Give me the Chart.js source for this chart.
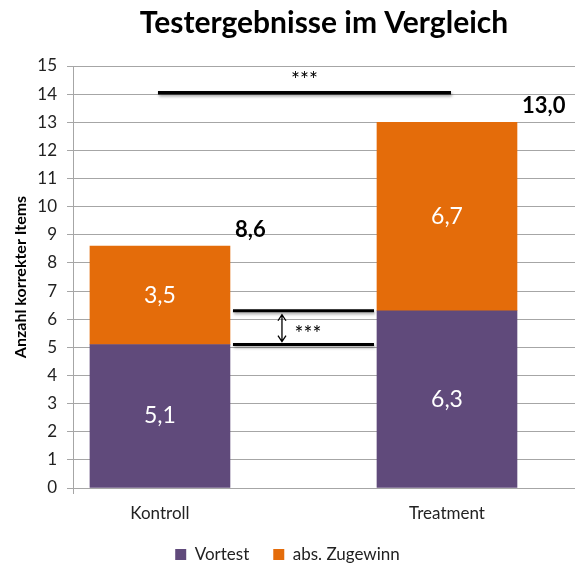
<!DOCTYPE html>
<html>
<head>
<meta charset="utf-8">
<script src="https://cdn.jsdelivr.net/npm/chart.js@4"></script>
<style>
  html, body { margin: 0; padding: 0; background: #fff; }
  #wrap { width: 575px; height: 565px; }
</style>
</head>
<body>
<div id="wrap"><canvas id="c" width="575" height="565"></canvas></div>
<script>
// ---- data ----
const categories = ['Kontroll', 'Treatment'];
const seriesNames = ['Vortest', 'abs. Zugewinn'];
const vortest = [5.1, 6.3];
const zugewinn = [3.5, 6.7];
const totals = [8.6, 13.0];
const yMin = 0, yMax = 15, yStep = 1;
const sigLevelTop = 14.05;       // y-value of the upper significance bar
const sigMark = '***';
const titleText = 'Testergebnisse im Vergleich';
const yTitle = 'Anzahl korrekter Items';

const colors = ['#604A7B', '#E46C0A'];
const FONT = 'Lato, "Open Sans", sans-serif';
const fmt = v => v.toFixed(1).replace('.', ',');

const annotate = {
  id: 'annotate',
  afterDatasetsDraw(chart) {
    const ctx = chart.ctx;
    const xs = chart.scales.x, ys = chart.scales.y;
    const m0 = chart.getDatasetMeta(0), m1 = chart.getDatasetMeta(1);
    ctx.save();
    // value labels inside segments
    ctx.fillStyle = '#fff';
    ctx.font = '23px ' + FONT;
    ctx.textAlign = 'center';
    ctx.textBaseline = 'middle';
    [m0, m1].forEach((m, di) => {
      const vals = di === 0 ? vortest : zugewinn;
      m.data.forEach((bar, i) => {
        ctx.fillText(fmt(vals[i]), bar.x, (bar.y + bar.base) / 2);
      });
    });
    // totals
    ctx.fillStyle = '#000';
    ctx.font = 'bold 22px ' + FONT;
    ctx.textAlign = 'left';
    ctx.textBaseline = 'alphabetic';
    m1.data.forEach((bar, i) => {
      ctx.fillText(fmt(totals[i]), bar.x + bar.width / 2 + 5, ys.getPixelForValue(totals[i]) - 9);
    });

    // significance lines with shadow
    ctx.shadowColor = 'rgba(0,0,0,0.35)';
    ctx.shadowBlur = 3;
    ctx.shadowOffsetX = 1;
    ctx.shadowOffsetY = 2;
    ctx.strokeStyle = '#000';
    ctx.lineCap = 'butt';
    // top bar
    const yTop = ys.getPixelForValue(sigLevelTop);
    const xa = xs.getPixelForValue(0) - 2, xb = xs.getPixelForValue(1) + 4;
    ctx.lineWidth = 3.5;
    ctx.beginPath(); ctx.moveTo(xa, yTop); ctx.lineTo(xb, yTop); ctx.stroke();
    // middle bars between the columns (pretest levels)
    const b0 = m0.data[0], b1 = m0.data[1];
    const lx = b0.x + b0.width / 2 + 3, rx = b1.x - b1.width / 2 - 3;
    const yHi = ys.getPixelForValue(vortest[1]);
    const yLo = ys.getPixelForValue(vortest[0]);
    ctx.lineWidth = 3;
    ctx.beginPath(); ctx.moveTo(lx, yHi); ctx.lineTo(rx, yHi); ctx.stroke();
    ctx.beginPath(); ctx.moveTo(lx, yLo); ctx.lineTo(rx, yLo); ctx.stroke();
    ctx.shadowColor = 'transparent';
    // double arrow
    const ax = lx + 49;
    const a1 = yHi + 4, a2 = yLo - 3;
    ctx.lineWidth = 1.3;
    ctx.beginPath();
    ctx.moveTo(ax, a1); ctx.lineTo(ax, a2);
    ctx.moveTo(ax - 4, a1 + 6); ctx.lineTo(ax, a1); ctx.lineTo(ax + 4, a1 + 6);
    ctx.moveTo(ax - 4, a2 - 6); ctx.lineTo(ax, a2); ctx.lineTo(ax + 4, a2 - 6);
    ctx.stroke();
    // stars
    ctx.fillStyle = '#000';
    ctx.font = '21px ' + FONT;
    ctx.textAlign = 'center';
    ctx.textBaseline = 'middle';
    ctx.fillText(sigMark, ax + 26, (yHi + yLo) / 2 + 7);
    ctx.fillText(sigMark, (xa + xb) / 2, yTop - 12);
    // small axis tick below origin
    ctx.strokeStyle = '#A6A6A6';
    ctx.lineWidth = 1;
    ctx.beginPath();
    ctx.moveTo(chart.chartArea.left + 0.5, chart.chartArea.bottom);
    ctx.lineTo(chart.chartArea.left + 0.5, chart.chartArea.bottom + 6);
    ctx.stroke();
    ctx.restore();
  }
};

new Chart(document.getElementById('c'), {
  type: 'bar',
  data: {
    datasets: [
      { label: seriesNames[0], data: vortest.map((v, i) => ({ x: i, y: v })), backgroundColor: colors[0] },
      { label: seriesNames[1], data: zugewinn.map((v, i) => ({ x: i, y: v })), backgroundColor: colors[1] }
    ]
  },
  options: {
    responsive: false,
    animation: false,
    devicePixelRatio: 1,
    barThickness: 140,
    layout: { padding: { left: 0, right: 0, top: 0, bottom: -8 } },
    plugins: {
      title: {
        display: true, text: titleText, fullSize: false,
        color: '#000',
        font: { family: FONT, size: 30, weight: 'bold' },
        padding: { top: 5, bottom: 25 }
      },
      legend: {
        position: 'bottom',
        labels: {
          color: '#222', boxWidth: 11, boxHeight: 11, padding: 24,
          font: { family: FONT, size: 17 }
        }
      },
      tooltip: { enabled: false }
    },
    scales: {
      x: {
        type: 'linear', stacked: true, offset: false,
        min: -0.303, max: 1.446,
        afterBuildTicks: s => { s.ticks = categories.map((c, i) => ({ value: i })); },
        afterFit: s => { s.height = 34; },
        ticks: {
          autoSkip: false, padding: 7, color: '#222',
          font: { family: FONT, size: 17 },
          callback: v => categories[v]
        },
        grid: { display: false },
        border: { display: true, color: '#A6A6A6', width: 1 }
      },
      y: {
        stacked: true, min: yMin, max: yMax,
        afterFit: s => { s.width = 73; },
        ticks: {
          stepSize: yStep, padding: 10, color: '#222',
          font: { family: FONT, size: 17 }
        },
        grid: { color: '#A6A6A6', lineWidth: 1, tickLength: 6, drawTicks: true },
        border: { display: true, color: '#A6A6A6', width: 1 },
        title: {
          display: true, text: yTitle, color: '#000',
          font: { family: FONT, size: 16, weight: 'bold' },
          padding: { top: 11, bottom: 0 }
        }
      }
    }
  },
  plugins: [annotate]
});
</script>
</body>
</html>
